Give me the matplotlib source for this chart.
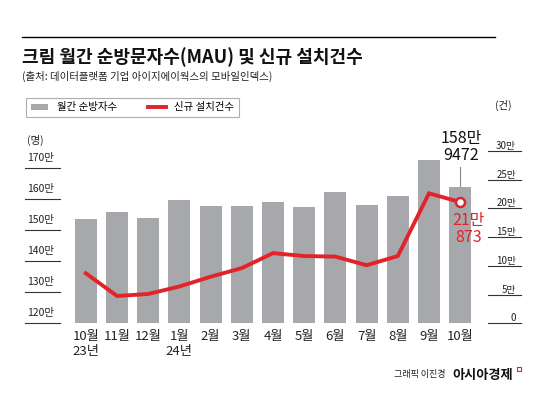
import matplotlib
matplotlib.use("Agg")
import matplotlib.pyplot as plt
import matplotlib.transforms as mtransforms
from matplotlib.lines import Line2D
from matplotlib.patches import Rectangle
import numpy as np

plt.rcParams['font.family'] = ['Noto Sans CJK KR', 'DejaVu Sans']

# ---- data ----
months = ['10월\n23년', '11월', '12월', '1월\n24년', '2월', '3월', '4월',
          '5월', '6월', '7월', '8월', '9월', '10월']
mau = [148.7, 151.0, 148.9, 154.8, 152.8, 152.8, 154.3, 152.7, 157.3,
       153.2, 156.2, 167.7, 158.9472]          # 만 명
installs = [8.7, 4.75, 5.1, 6.4, 8.1, 9.6, 12.2, 11.7, 11.6, 10.1, 11.7,
            22.6, 21.0873]                      # 만 건
left_ticks = [120, 130, 140, 150, 160, 170]
left_labels = ['120만', '130만', '140만', '150만', '160만', '170만']
right_ticks = [0, 5, 10, 15, 20, 25, 30]
right_labels = ['0', '5만', '10만', '15만', '20만', '25만', '30만']
title = '크림 월간 순방문자수(MAU) 및 신규 설치건수'
subtitle = '(출처: 데이터플랫폼 기업 아이지에이웍스의 모바일인덱스)'
legend_labels = ['월간 순방자수', '신규 설치건수']
last_mau_label = '158만\n9472'
last_inst_label = '21만\n873'

GRAY = '#a7a8ab'
RED = '#e2232a'

W, H = 550, 404
fig = plt.figure(figsize=(W / 100, H / 100), dpi=100)

def fx(px):
    return px / W

def fy(py):
    return 1 - py / H

ax_l, ax_r, ax_b, ax_t = 70.2, 475.8, 323.3, 120
ax = fig.add_axes([fx(ax_l), fy(ax_b), fx(ax_r - ax_l), (ax_b - ax_t) / H])
x = np.arange(len(months))

bars = ax.bar(x, mau, width=0.705, color=GRAY, zorder=2)
ax.set_xlim(-0.5, len(months) - 0.5)
ax.set_ylim(115.06, 180.64)
for s in ax.spines.values():
    s.set_visible(False)

ax.set_xticks(x, months)
ax.tick_params(axis='x', length=0, pad=5, labelsize=9.5, colors='#222')

ax.set_yticks(left_ticks, left_labels)
ax.tick_params(axis='y', length=0, pad=31, labelsize=7.5, colors='#222')
for lab in ax.get_yticklabels():
    lab.set_ha('left')
    lab.set_va('top')

trans_l = mtransforms.blended_transform_factory(fig.transFigure, ax.transData)
for v in left_ticks:
    ax.plot([fx(25), fx(60)], [v - 4.74, v - 4.74], transform=trans_l,
            color='#333', lw=0.8, clip_on=False)

ax2 = ax.twinx()
ax2.set_ylim(0, 35.36)
for s in ax2.spines.values():
    s.set_visible(False)
line, = ax2.plot(x, installs, color=RED, lw=2.8, zorder=3,
                 solid_joinstyle='miter')
ax2.plot(x[-1], installs[-1], 'o', ms=6.5, mfc='white', mec=RED, mew=1.8,
         zorder=4)
ax2.set_yticks(right_ticks, right_labels)
ax2.tick_params(axis='y', length=0, pad=29, labelsize=7, colors='#222')
for lab in ax2.get_yticklabels():
    lab.set_ha('right')
    lab.set_va('bottom')
trans_r = mtransforms.blended_transform_factory(fig.transFigure, ax2.transData)
for v in right_ticks:
    ax2.plot([fx(488), fx(521)], [v, v], transform=trans_r,
             color='#333', lw=0.8, clip_on=False)

# annotations for last month
ax.plot([x[-1], x[-1]], [mau[-1], mau[-1] + 6.4], color='#888', lw=0.8,
        zorder=1, clip_on=False)
ax.text(x[-1] + 0.03, 171.8, last_mau_label, ha='center', va='center',
        fontsize=11.5, color='#111', linespacing=1.0, clip_on=False)
ax2.text(x[-1] + 0.28, 16.4, last_inst_label, ha='center', va='center',
         fontsize=11.5, color=RED, linespacing=1.0, clip_on=False)

# header
fig.add_artist(Line2D([fx(21.7), fx(495)], [fy(36.7), fy(36.7)],
                      color='black', lw=1.0))
fig.text(fx(22), fy(57), title, fontsize=13, weight='bold', va='center',
         color='#111')
fig.text(fx(22), fy(76.7), subtitle, fontsize=7.5, va='center', color='#222')

leg = fig.legend([bars, line], legend_labels, loc='upper left',
                 bbox_to_anchor=(fx(26), fy(97.7)), ncol=2, frameon=True,
                 fancybox=False, fontsize=7.5, handlelength=1.7,
                 handleheight=0.55, handletextpad=0.8, columnspacing=3.0,
                 borderpad=0.45, borderaxespad=0)
leg.get_frame().set_edgecolor('#999')
leg.get_frame().set_linewidth(0.8)

fig.text(fx(27), fy(140), '(명)', fontsize=7.5, va='center', color='#222')
fig.text(fx(503), fy(105), '(건)', fontsize=7.5, va='center', ha='center',
         color='#222')

# footer
fig.text(fx(445), fy(375), '그래픽 이진경', ha='right', va='center',
         fontsize=6.5, color='#222')
fig.text(fx(452), fy(375), '아시아경제', ha='left', va='center',
         fontsize=9.5, weight='bold', color='#111')
fig.add_artist(Rectangle((fx(517), fy(371)), fx(4), 4 / H, fill=False,
                         edgecolor=RED, lw=0.8, transform=fig.transFigure))

fig.savefig('out.png', dpi=100)
